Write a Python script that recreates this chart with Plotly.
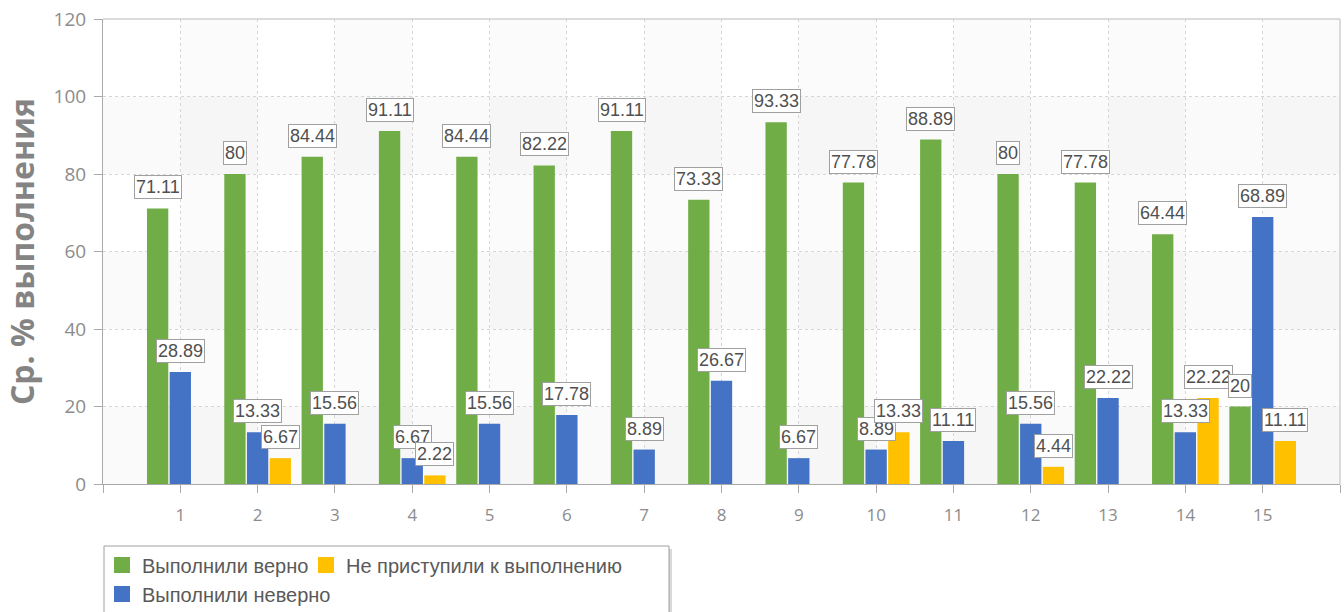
import plotly.graph_objects as go

# ---------------- data ----------------
categories = ["1", "2", "3", "4", "5", "6", "7", "8", "9", "10", "11", "12", "13", "14", "15"]
series_names = ["Выполнили верно", "Выполнили неверно", "Не приступили к выполнению"]
correct = [71.11, 80, 84.44, 91.11, 84.44, 82.22, 91.11, 73.33, 93.33, 77.78, 88.89, 80, 77.78, 64.44, 20]
wrong = [28.89, 13.33, 15.56, 6.67, 15.56, 17.78, 8.89, 26.67, 6.67, 8.89, 11.11, 15.56, 22.22, 13.33, 68.89]
not_started = [0, 6.67, 0, 2.22, 0, 0, 0, 0, 0, 13.33, 0, 4.44, 0, 22.22, 11.11]
y_ticks = [0, 20, 40, 60, 80, 100, 120]
y_title = "Ср. % выполнения"

# ---------------- style ----------------
colors = ["#70AD47", "#4472C4", "#FFC000"]
BARGAP = 0.12
BARGROUPGAP = 0.06
W, H = 1344, 612
# plot area in page pixels: x 103..1340, y 19..484
ML = 103
MR = W - 1340
MT = 19
MB = H - 484

positions = list(range(1, len(categories) + 1))
series = [correct, wrong, not_started]
pitch = (1 - BARGAP) / len(series)

fig = go.Figure()
for name, vals, col in zip(series_names, series, colors):
    fig.add_trace(go.Bar(x=positions, y=vals, name=name, marker=dict(color=col, line=dict(width=0)),
                         showlegend=False, hoverinfo="x+y+name"))

# legend-only entries (square markers)
legend_of = ["legend", "legend2", "legend3"]
for name, col, lg in zip(series_names, colors, legend_of):
    fig.add_trace(go.Scatter(x=[None], y=[None], mode="markers", name=name, legend=lg,
                             marker=dict(symbol="square", size=16, color=col, line=dict(width=0))))

# data labels
annotations = []
for i, p in enumerate(positions):
    for s, vals in enumerate(series):
        v = vals[i]
        if v == 0:
            continue
        annotations.append(dict(
            x=p + (s - 1) * pitch, y=v, xref="x", yref="y", text=f"{v:g}", showarrow=False,
            yanchor="bottom", yshift=9, bgcolor="white", bordercolor="#a0a0a0", borderwidth=1,
            borderpad=1, font=dict(family="Liberation Sans, Arial", size=18, color="#505050")))

# background bands (checker-like, very faint)
shapes = []
for y0 in (0, 40, 80):
    shapes.append(dict(type="rect", xref="paper", yref="y", x0=0, x1=1, y0=y0, y1=y0 + 20,
                       fillcolor="rgba(0,0,0,0.018)", line=dict(width=0), layer="below"))
for k in range(1, len(categories) + 1, 2):
    shapes.append(dict(type="rect", xref="x", yref="paper", x0=k, x1=k + 1, y0=0, y1=1,
                       fillcolor="rgba(0,0,0,0.016)", line=dict(width=0), layer="below"))
# top & right border
shapes.append(dict(type="line", xref="paper", yref="paper", x0=0, x1=1, y0=1, y1=1,
                   line=dict(color="#d0d0d0", width=1.5)))
shapes.append(dict(type="line", xref="paper", yref="paper", x0=1, x1=1, y0=0, y1=1,
                   line=dict(color="#d0d0d0", width=1.5)))

# page pixel -> paper
pw = W - ML - MR
ph = H - MT - MB
def px_x(X):
    return (X - ML) / pw
def px_y(Y):
    return (H - MB - Y) / ph

# legend box with shadow
shapes.append(dict(type="rect", xref="paper", yref="paper", x0=px_x(107), x1=px_x(672),
                   y0=px_y(549), y1=px_y(660), fillcolor="#d9d9d9", line=dict(width=0)))
shapes.append(dict(type="rect", xref="paper", yref="paper", x0=px_x(104), x1=px_x(669),
                   y0=px_y(546), y1=px_y(660), fillcolor="white", line=dict(color="#a0a0a0", width=1)))

legend_font = dict(family="Liberation Sans, Arial", size=20, color="#595959")
def leg(xpx, ypx):
    return dict(orientation="h", x=px_x(xpx), xanchor="left", y=px_y(ypx), yanchor="middle",
                font=legend_font, bgcolor="rgba(0,0,0,0)")

fig.update_layout(
    width=W, height=H,
    margin=dict(l=ML, r=MR, t=MT, b=MB, autoexpand=False),
    paper_bgcolor="white", plot_bgcolor="white",
    barmode="group", bargap=BARGAP, bargroupgap=BARGROUPGAP,
    annotations=annotations, shapes=shapes,
    legend=leg(102, 565), legend2=leg(102, 594), legend3=leg(306, 565),
    xaxis=dict(range=[0, len(categories) + 1],
               tickvals=[0] + positions + [len(categories) + 1],
               ticktext=[""] + categories + [""],
               ticks="outside", ticklen=8, tickcolor="#aaaaaa",
               showline=True, linecolor="#aaaaaa", linewidth=1,
               showgrid=True, gridcolor="#d6d6d6", griddash="dot", gridwidth=1,
               zeroline=False, ticklabelstandoff=8, ticklabeloverflow="allow",
               tickfont=dict(family="Open Sans", size=17, color="#8c8c8c")),
    yaxis=dict(range=[0, 120], tickvals=y_ticks,
               ticks="outside", ticklen=8, tickcolor="#aaaaaa",
               showline=True, linecolor="#aaaaaa", linewidth=1,
               showgrid=True, gridcolor="#d6d6d6", griddash="dot", gridwidth=1,
               zeroline=False, ticklabelstandoff=4, ticklabeloverflow="allow",
               tickfont=dict(family="Open Sans", size=19, color="#8c8c8c"),
               title=dict(text=y_title, standoff=10,
                          font=dict(family="Open Sans", size=32, color="#848484", weight="bold"))),
)

fig.write_html("out.html", config={"displayModeBar": False},
               post_script="document.body.style.margin='0px';")
